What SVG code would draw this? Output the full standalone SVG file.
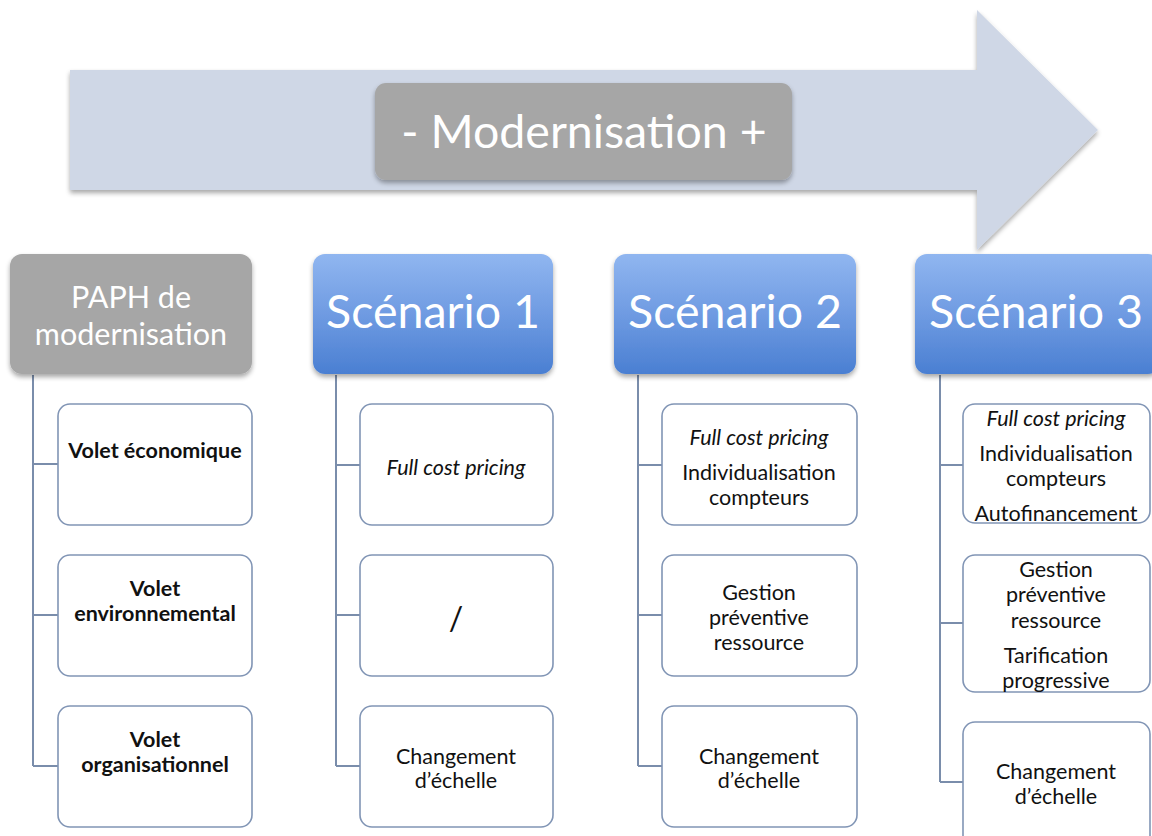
<svg xmlns="http://www.w3.org/2000/svg" width="1152" height="836" viewBox="0 0 1152 836">
<defs>
<linearGradient id="blue" x1="0" y1="0" x2="0" y2="1">
<stop offset="0" stop-color="#90b6f0"/>
<stop offset="0.5" stop-color="#6f9be2"/>
<stop offset="1" stop-color="#4a7fd2"/>
</linearGradient>
<filter id="sh" x="-10%" y="-10%" width="130%" height="130%">
<feGaussianBlur in="SourceAlpha" stdDeviation="2.5"/>
<feOffset dx="0" dy="3" result="b"/>
<feComponentTransfer><feFuncA type="linear" slope="0.35"/></feComponentTransfer>
<feMerge><feMergeNode/><feMergeNode in="SourceGraphic"/></feMerge>
</filter>
</defs>
<style>
.hdr{fill:url(#blue);filter:url(#sh)}
.gray{fill:#a6a6a6;filter:url(#sh)}
.child{fill:#ffffff;stroke:#8195b5;stroke-width:1.6}
.conn{fill:none;stroke:#7a8dab;stroke-width:2}
.ht{font-family:Lato,"Liberation Sans",sans-serif;fill:#ffffff;text-anchor:middle}
.ct{font-family:Lato,"Liberation Sans",sans-serif;fill:#111111;text-anchor:middle;font-size:21.5px}
.big{font-size:32px}
.b{font-weight:bold}
.i{font-style:italic}
</style>
<rect width="1152" height="836" fill="#ffffff"/>
<g id="arrow">
<polygon points="70,70 977,70 977,10 1098,130 977,250 977,190 70,190" fill="#cfd7e6" filter="url(#sh)"/>
</g>
<g id="modernisation">
<rect x="375" y="83" width="417" height="97" rx="11" class="gray"/>
<text x="584" y="148" class="ht" font-size="46.5">- Modernisation +</text>
</g>
<g id="connectors">
<path class="conn" d="M33,375 V766 M33,464 H58 M33,615 H58 M33,766 H58"/>
<path class="conn" d="M336,375 V766 M336,465 H360 M336,615 H360 M336,766 H360"/>
<path class="conn" d="M638,375 V766 M638,465 H662 M638,615 H662 M638,766 H662"/>
<path class="conn" d="M940,375 V782 M940,465 H963 M940,623 H963 M940,782 H963"/>
</g>
<g id="paph">
<rect x="10" y="254" width="242" height="120" rx="12" class="gray"/>
<text x="131" y="308" class="ht" font-size="30.5">PAPH de</text>
<text x="131" y="345" class="ht" font-size="30.5">modernisation</text>
</g>
<g id="scenario1">
<rect x="313" y="254" width="240" height="120" rx="12" class="hdr"/>
<text x="433" y="328" class="ht" font-size="46.5">Scénario 1</text>
</g>
<g id="scenario2">
<rect x="614" y="254" width="242" height="120" rx="12" class="hdr"/>
<text x="735" y="328" class="ht" font-size="46.5">Scénario 2</text>
</g>
<g id="scenario3">
<rect x="915" y="254" width="245" height="120" rx="12" class="hdr"/>
<text x="1036" y="328" class="ht" font-size="46.5">Scénario 3</text>
</g>
<g id="paph-eco">
<rect x="58" y="404" width="194" height="121" rx="12" class="child"/>
<text x="155" y="458" class="ct b">Volet économique</text>
</g>
<g id="paph-env">
<rect x="58" y="555" width="194" height="121" rx="12" class="child"/>
<text x="155" y="596" class="ct b">Volet</text>
<text x="155" y="621" class="ct b">environnemental</text>
</g>
<g id="paph-org">
<rect x="58" y="706" width="194" height="121" rx="12" class="child"/>
<text x="155" y="747" class="ct b">Volet</text>
<text x="155" y="772" class="ct b">organisationnel</text>
</g>
<g id="s1-a">
<rect x="360" y="404" width="193" height="121" rx="12" class="child"/>
<text x="456" y="475" class="ct i">Full cost pricing</text>
</g>
<g id="s1-b">
<rect x="360" y="555" width="193" height="121" rx="12" class="child"/>
<text x="456" y="630" class="ct big">/</text>
</g>
<g id="s1-c">
<rect x="360" y="706" width="193" height="121" rx="12" class="child"/>
<text x="456" y="764" class="ct">Changement</text>
<text x="456" y="788" class="ct">d’échelle</text>
</g>
<g id="s2-a">
<rect x="662" y="404" width="195" height="121" rx="12" class="child"/>
<text x="759" y="445" class="ct i">Full cost pricing</text>
<text x="759" y="480" class="ct">Individualisation</text>
<text x="759" y="505" class="ct">compteurs</text>
</g>
<g id="s2-b">
<rect x="662" y="555" width="195" height="121" rx="12" class="child"/>
<text x="759" y="600" class="ct">Gestion</text>
<text x="759" y="625" class="ct">préventive</text>
<text x="759" y="650" class="ct">ressource</text>
</g>
<g id="s2-c">
<rect x="662" y="706" width="195" height="121" rx="12" class="child"/>
<text x="759" y="764" class="ct">Changement</text>
<text x="759" y="788" class="ct">d’échelle</text>
</g>
<g id="s3-a">
<rect x="963" y="404" width="187" height="119" rx="12" class="child"/>
<text x="1056" y="426" class="ct i">Full cost pricing</text>
<text x="1056" y="461" class="ct">Individualisation</text>
<text x="1056" y="486" class="ct">compteurs</text>
<text x="1056" y="521" class="ct">Autofinancement</text>
</g>
<g id="s3-b">
<rect x="963" y="555" width="187" height="137" rx="12" class="child"/>
<text x="1056" y="577" class="ct">Gestion</text>
<text x="1056" y="602" class="ct">préventive</text>
<text x="1056" y="628" class="ct">ressource</text>
<text x="1056" y="663" class="ct">Tarification</text>
<text x="1056" y="688" class="ct">progressive</text>
</g>
<g id="s3-c">
<rect x="963" y="722" width="187" height="130" rx="12" class="child"/>
<text x="1056" y="779" class="ct">Changement</text>
<text x="1056" y="804" class="ct">d’échelle</text>
</g>
</svg>
